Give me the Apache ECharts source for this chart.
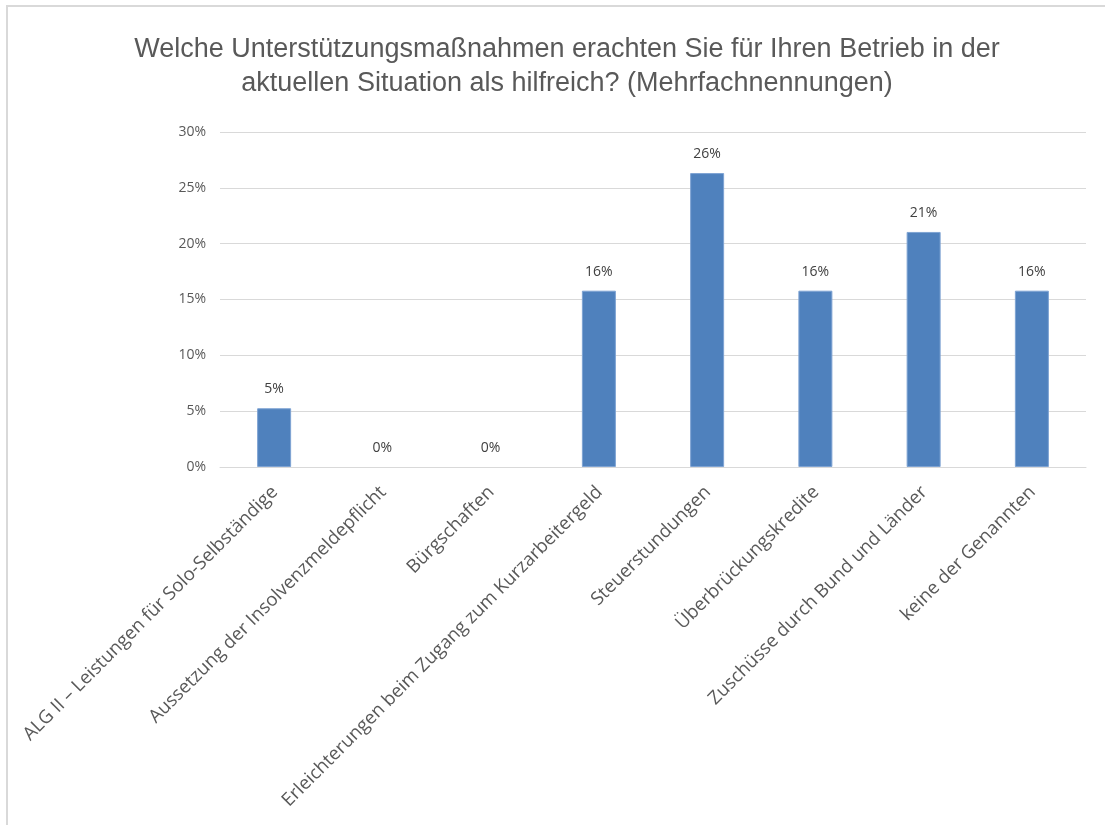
<!DOCTYPE html>
<html>
<head>
<meta charset="utf-8">
<script src="https://cdn.jsdelivr.net/npm/echarts@6/dist/echarts.min.js"></script>
<style>
  html, body { margin: 0; padding: 0; background: #ffffff; }
  #chart { width: 1105px; height: 825px; }
</style>
</head>
<body>
<div id="chart"></div>
<script>
// Survey answers (share of responses, multiple answers allowed)
const categories = [
  'ALG II – Leistungen für Solo-Selbständige',
  'Aussetzung der Insolvenzmeldepflicht',
  'Bürgschaften',
  'Erleichterungen beim Zugang zum Kurzarbeitergeld',
  'Steuerstundungen',
  'Überbrückungskredite',
  'Zuschüsse durch Bund und Länder',
  'keine der Genannten'
];
const shares = [5.26, 0, 0, 15.79, 26.32, 15.79, 21.05, 15.79];
const titleLines = [
  'Welche Unterstützungsmaßnahmen erachten Sie für Ihren Betrieb in der',
  'aktuellen Situation als hilfreich? (Mehrfachnennungen)'
];

const chart = echarts.init(document.getElementById('chart'), null, { renderer: 'canvas' });

// zero-valued bars get no outline so they stay invisible
const barData = shares.map(v => v === 0 ? { value: v, itemStyle: { borderWidth: 0 } } : v);

chart.setOption({
  backgroundColor: '#ffffff',
  animation: false,
  title: {
    text: titleLines.join('\n'),
    left: 562,
    textAlign: 'center',
    top: 28,
    textStyle: {
      fontFamily: 'Liberation Sans, sans-serif',
      fontSize: 27,
      fontWeight: 'normal',
      color: '#595959',
      lineHeight: 34
    }
  },
  graphic: [{
    type: 'rect',
    shape: { x: 7, y: 6, width: 1200, height: 900 },
    style: { fill: 'none', stroke: '#d9d9d9', lineWidth: 2 },
    silent: true
  }],
  grid: { left: 220, right: 19, top: 132, bottom: 358, containLabel: false },
  xAxis: {
    type: 'category',
    data: categories,
    axisLine: { show: true, lineStyle: { color: '#d9d9d9', width: 1 } },
    axisTick: { show: false },
    axisLabel: {
      interval: 0,
      rotate: 45,
      margin: 23,
      padding: [0, -1, 0, 0],
      fontFamily: 'Open Sans, sans-serif',
      fontSize: 18.5,
      color: '#595959'
    }
  },
  yAxis: {
    type: 'value',
    min: 0,
    max: 30,
    interval: 5,
    axisLine: { show: false },
    axisTick: { show: false },
    splitLine: { lineStyle: { color: '#d9d9d9', width: 1 } },
    axisLabel: {
      formatter: v => v + '%',
      margin: 14,
      fontFamily: 'Open Sans, sans-serif',
      fontSize: 14,
      color: '#595959'
    }
  },
  series: [{
    type: 'bar',
    data: barData,
    barWidth: 34,
    itemStyle: { color: '#4f81bd', borderColor: '#7ea3d3', borderWidth: 1 },
    label: {
      show: true,
      position: 'top',
      distance: 12,
      formatter: p => Math.round(p.value) + '%',
      fontFamily: 'Open Sans, sans-serif',
      fontSize: 14,
      color: '#404040'
    }
  }]
});
</script>
</body>
</html>
